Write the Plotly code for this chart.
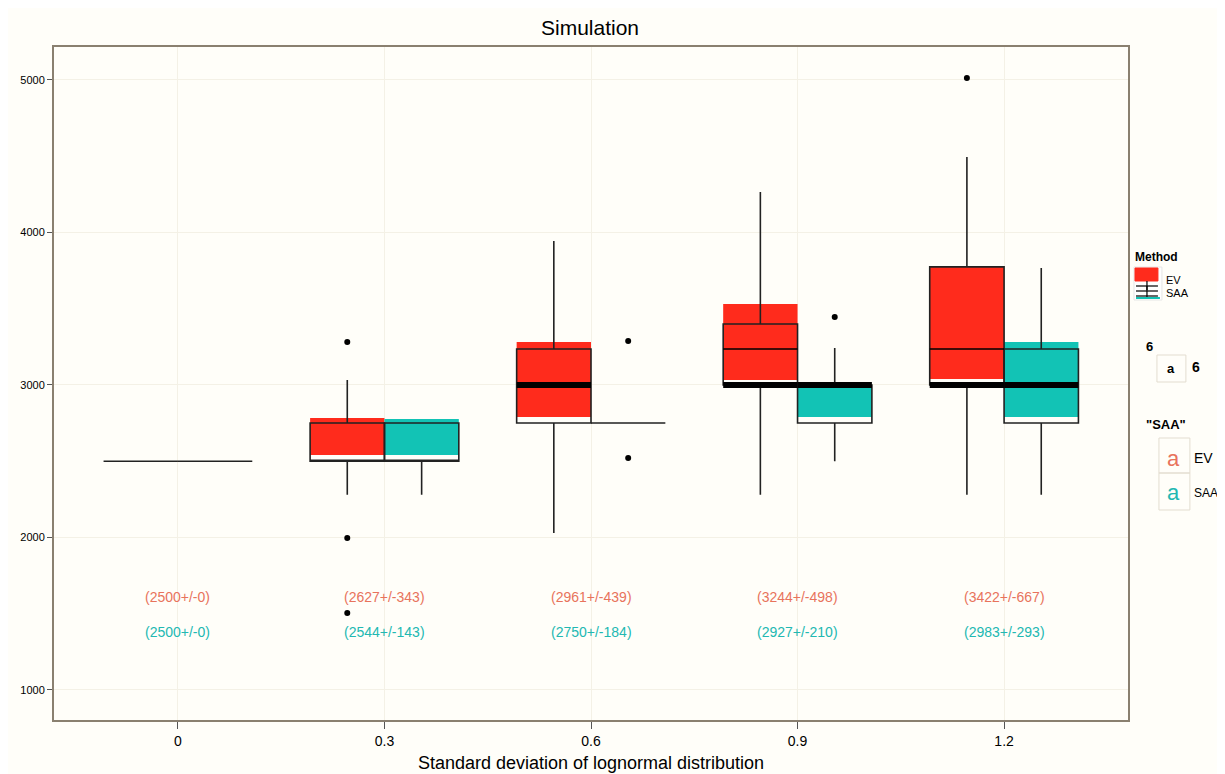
import plotly.graph_objects as go

# ---------------- data ----------------
categories = ["0", "0.3", "0.6", "0.9", "1.2"]

# outlined boxes (black borders)
ev_q1 = [2500, 2500, 2750, 3000, 3000]
ev_med = [2500, 2500, 3000, 3000, 3000]
ev_q3 = [2500, 2750, 3236, 3400, 3774]
ev_lo = [2500, 2280, 2030, 2280, 2280]
ev_hi = [2500, 3033, 3944, 4266, 4495]

saa_q1 = [2500, 2500, 2750, 2750, 2750]
saa_med = [2500, 2500, 2750, 3000, 3000]
saa_q3 = [2500, 2750, 2750, 3000, 3236]
saa_lo = [2500, 2280, 2750, 2500, 2280]
saa_hi = [2500, 2750, 2750, 3243, 3767]

# thick median bars and extra thin lines (None = not drawn)
ev_thick = [None, None, 3000, 3000, 3000]
saa_thick = [None, None, None, 3000, 3000]
ev_extra = [None, None, None, 3236, 3236]

# filled (coloured) boxes
ev_fill_lo = [None, 2541, 2790, 3033, 3039]
ev_fill_hi = [None, 2784, 3282, 3531, 3774]
saa_fill_lo = [None, 2541, None, 2790, 2790]
saa_fill_hi = [None, 2777, None, 3000, 3282]

# outliers: (category index, value)
ev_out_cat = [1, 1, 1, 4]
ev_out_val = [3282, 1997, 1505, 5013]
saa_out_cat = [2, 2, 3]
saa_out_val = [3289, 2521, 3446]

# mean +/- sd labels
ev_labels = ["(2500+/-0)", "(2627+/-343)", "(2961+/-439)", "(3244+/-498)", "(3422+/-667)"]
saa_labels = ["(2500+/-0)", "(2544+/-143)", "(2750+/-184)", "(2927+/-210)", "(2983+/-293)"]
ev_label_y = 1610
saa_label_y = 1380

yticks = [1000, 2000, 3000, 4000, 5000]

# ---------------- styling ----------------
EV_COL = "#ff2b1c"
SAA_COL = "#12c3b5"
EV_TXT = "#e8735c"
SAA_TXT = "#22b8b2"
FONT = "Liberation Sans, Arial, sans-serif"
BW = 0.36       # box width in category units
OFF = 0.18      # dodge offset
idx = list(range(len(categories)))

fig = go.Figure()


def add_fill(offset, lo, hi, color):
    xs, q1, q3 = [], [], []
    for i, a, b in zip(idx, lo, hi):
        if a is None:
            continue
        xs.append(i + offset)
        q1.append(a)
        q3.append(b)
    fig.add_trace(go.Box(x=xs, q1=q1, median=q1, q3=q3, lowerfence=q1, upperfence=q3,
                         width=BW, fillcolor=color, line=dict(color=color, width=0),
                         boxpoints=False, showlegend=False, hoverinfo="skip"))


def add_outline(offset, q1, med, q3, lo, hi):
    fig.add_trace(go.Box(x=[i + offset for i in idx], q1=q1, median=med, q3=q3,
                         lowerfence=lo, upperfence=hi, width=BW,
                         fillcolor="rgba(0,0,0,0)", line=dict(color="#222222", width=1.6),
                         whiskerwidth=0, boxpoints=False, showlegend=False))


def add_hline(offset, vals, width):
    xs, ys = [], []
    for i, v in zip(idx, vals):
        if v is None:
            continue
        xs += [i + offset - BW / 2, i + offset + BW / 2, None]
        ys += [v, v, None]
    fig.add_trace(go.Scatter(x=xs, y=ys, mode="lines", line=dict(color="black", width=width),
                             showlegend=False, hoverinfo="skip"))


add_fill(-OFF, ev_fill_lo, ev_fill_hi, EV_COL)
add_fill(OFF, saa_fill_lo, saa_fill_hi, SAA_COL)
add_outline(-OFF, ev_q1, ev_med, ev_q3, ev_lo, ev_hi)
add_outline(OFF, saa_q1, saa_med, saa_q3, saa_lo, saa_hi)
add_hline(-OFF, ev_thick, 6)
add_hline(OFF, saa_thick, 6)
add_hline(-OFF, ev_extra, 1.6)

fig.add_trace(go.Scatter(x=[c - OFF for c in ev_out_cat] + [c + OFF for c in saa_out_cat],
                         y=ev_out_val + saa_out_val, mode="markers",
                         marker=dict(color="black", size=6), showlegend=False))

for i in idx:
    fig.add_annotation(x=i, y=ev_label_y, text=ev_labels[i], showarrow=False,
                       font=dict(family=FONT, size=14, color=EV_TXT))
    fig.add_annotation(x=i, y=saa_label_y, text=saa_labels[i], showarrow=False,
                       font=dict(family=FONT, size=14, color=SAA_TXT))

# ---------------- custom legend ----------------
# the page body adds an 8px offset; margins compensate so the plot frame
# lands at screen x 52..1130, y 47..720
PAGE = 8
W, H = 1225, 774
L, R, T, B = 52 - PAGE, W - 1128 + PAGE, 47 - PAGE, H - 720 + PAGE
PW, PH = W - L - R, H - T - B


def px(x):
    return (x - PAGE - L) / PW


def py(y):
    return (H - B - (y - PAGE)) / PH


def leg_text(x, y, text, size=12, bold=False, color="black", anchor="left"):
    fig.add_annotation(xref="paper", yref="paper", x=px(x), y=py(y), text=("<b>%s</b>" % text) if bold else text,
                       showarrow=False, xanchor=anchor, yanchor="middle",
                       font=dict(family=FONT, size=size, color=color))


def leg_rect(x0, y0, x1, y1, fill="rgba(0,0,0,0)", line="#dddddd", lw=1):
    fig.add_shape(type="rect", xref="paper", yref="paper", x0=px(x0), x1=px(x1), y0=py(y0), y1=py(y1),
                  fillcolor=fill, line=dict(color=line, width=lw), layer="above")


def leg_line(x0, y0, x1, y1, color="black", lw=1.2):
    fig.add_shape(type="line", xref="paper", yref="paper", x0=px(x0), x1=px(x1), y0=py(y0), y1=py(y1),
                  line=dict(color=color, width=lw), layer="above")


leg_text(1133, 257, "Method", size=12, bold=True)
leg_rect(1134, 267, 1162, 300, fill="#ffffff", line="#e6e6e6")
leg_rect(1135, 268, 1158, 281, fill=EV_COL, line=EV_COL)
leg_line(1147, 281, 1147, 290)
leg_line(1136, 286, 1158, 286)
leg_line(1136, 291, 1158, 291)
leg_line(1136, 296, 1158, 296)
leg_line(1147, 286, 1147, 297)
leg_line(1136, 298, 1160, 298, color=SAA_COL, lw=2)
leg_text(1164, 280, "EV", size=11)
leg_text(1164, 293, "SAA", size=11)

leg_text(1144, 346, "6", size=13, bold=True)
leg_rect(1157, 355, 1186, 382, line="#e3ddd0")
leg_text(1171, 368, "a", size=13, bold=True, anchor="center")
leg_text(1190, 367, "6", size=14, bold=True)

leg_text(1144, 424, '"SAA"', size=13, bold=True)
leg_rect(1159, 438, 1190, 473, line="#e3ddd0")
leg_rect(1159, 473, 1190, 510, line="#e3ddd0")
leg_text(1174, 458, "a", size=22, color=EV_TXT, anchor="center")
leg_text(1174, 492, "a", size=22, color=SAA_TXT, anchor="center")
leg_text(1192, 458, "EV", size=14)
leg_text(1192, 493, "SAA", size=12)

# ---------------- layout ----------------
fig.update_layout(
    width=W, height=H,
    margin=dict(l=L, r=R, t=T, b=B),
    paper_bgcolor="#fffef9", plot_bgcolor="#fffef9",
    boxmode="overlay",
    showlegend=False,
    title=dict(text="Simulation", x=(590 - PAGE) / W, xanchor="center",
               y=1 - (28 - PAGE) / H, yanchor="middle",
               font=dict(family=FONT, size=21, color="black")),
    font=dict(family=FONT, color="black"),
)
fig.update_xaxes(
    range=[-0.6, len(categories) - 0.4], tickmode="array", tickvals=idx, ticktext=categories,
    showgrid=True, gridcolor="#f4f1e6", gridwidth=1, zeroline=False,
    showline=True, mirror=True, linecolor="#8a8070", linewidth=2,
    ticks="outside", ticklen=7, tickcolor="#555555",
    tickfont=dict(family=FONT, size=14, color="black"),
    title=dict(text="Standard deviation of lognormal distribution", standoff=9,
               font=dict(family=FONT, size=18, color="black")),
)
fig.update_yaxes(
    range=[803, 5216], tickmode="array", tickvals=yticks,
    showgrid=True, gridcolor="#f4f1e6", gridwidth=1, zeroline=False,
    showline=True, mirror=True, linecolor="#8a8070", linewidth=2,
    ticks="outside", ticklen=5, tickcolor="#555555",
    tickfont=dict(family=FONT, size=11, color="black"),
)

fig.write_html("out.html")
